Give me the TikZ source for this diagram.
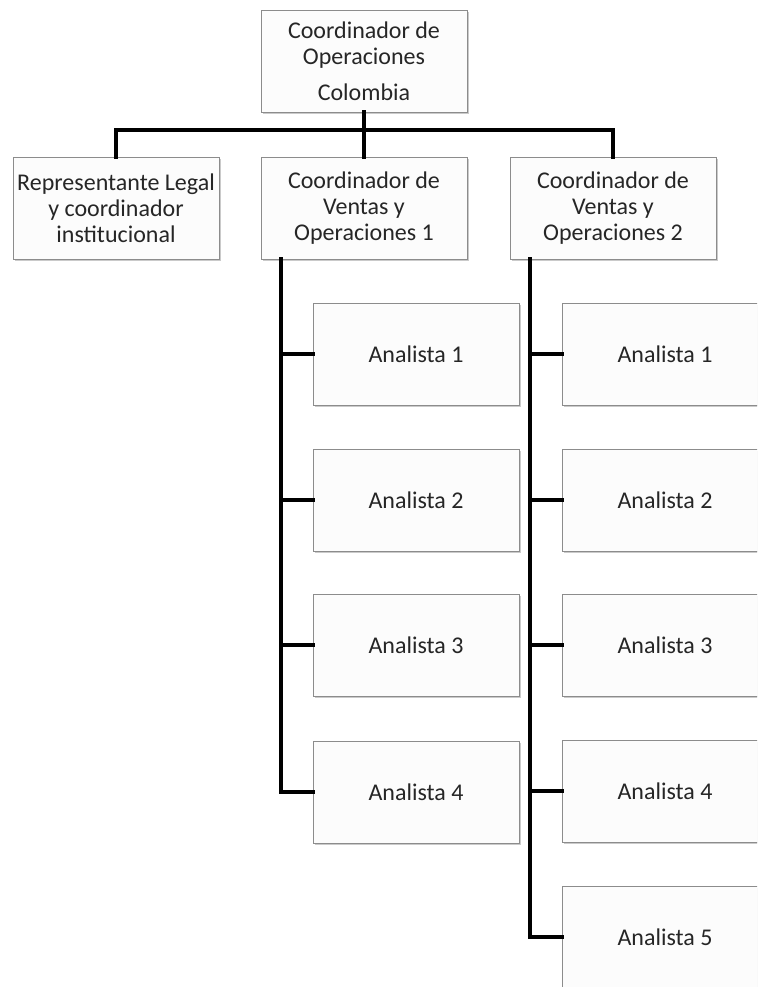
\documentclass[tikz,border=0pt]{standalone}
\usepackage{fontspec}
\setmainfont{Carlito}
\usetikzlibrary{shadows}
\definecolor{boxline}{HTML}{8C8C8C}
\definecolor{boxfill}{HTML}{FCFCFC}
\definecolor{txt}{HTML}{262626}
\begin{document}
\begin{tikzpicture}[x=0.5pt,y=-0.5pt,
  orgbox/.style={draw=boxline, line width=0.5pt, fill=boxfill,
    minimum width=103pt, minimum height=51pt, inner sep=1pt,
    align=center, text=txt, font=\fontsize{12}{13}\selectfont,
    drop shadow={shadow xshift=1.2pt, shadow yshift=-1.2pt, opacity=0.35, fill=black!60}},
  link/.style={line width=2.4pt, line join=miter, line cap=rect}]
\useasboundingbox (0,0) rectangle (757,987);
\clip (0,0) rectangle (757,987);

\node[orgbox] (top) at (364,61) {Coordinador de\\Operaciones\\[5pt]Colombia};
\node[orgbox] (rep) at (116,208) {Representante Legal\\y coordinador\\institucional};
\node[orgbox] (cv1) at (364,208) {Coordinador de\\Ventas y\\Operaciones 1};
\node[orgbox] (cv2) at (613,208) {Coordinador de\\Ventas y\\Operaciones 2};

\node[orgbox] (a11) at (416,354) {Analista 1};
\node[orgbox] (a12) at (416,500) {Analista 2};
\node[orgbox] (a13) at (416,645) {Analista 3};
\node[orgbox] (a14) at (416,792) {Analista 4};

\node[orgbox] (a21) at (665,354) {Analista 1};
\node[orgbox] (a22) at (665,500) {Analista 2};
\node[orgbox] (a23) at (665,645) {Analista 3};
\node[orgbox] (a24) at (665,791) {Analista 4};
\node[orgbox] (a25) at (665,937) {Analista 5};

\coordinate (bar) at (364,130);
\coordinate (t1) at (281,259);
\coordinate (t2) at (530,259);

\begin{scope}[on background layer/.style={}]
\draw[link] (top.south) -- (cv1.north);
\draw[link] (rep.north) -- (rep.north |- bar) -- (cv2.north |- bar) -- (cv2.north);

\draw[link] (t1) |- (a14.west);
\foreach \n in {a11,a12,a13} \draw[link] (\n.west -| t1) -- (\n.west);

\draw[link] (t2) |- (a25.west);
\foreach \n in {a21,a22,a23,a24} \draw[link] (\n.west -| t2) -- (\n.west);
\end{scope}
\end{tikzpicture}
\end{document}
